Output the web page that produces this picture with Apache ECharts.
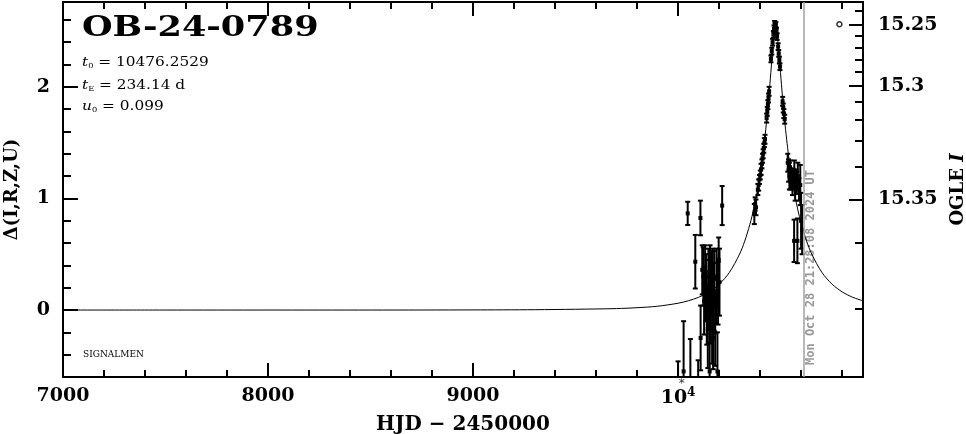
<!DOCTYPE html>
<html><head><meta charset="utf-8">
<script src="https://cdn.jsdelivr.net/npm/echarts@6/dist/echarts.min.js"></script>
<style>html,body{margin:0;padding:0;background:#fff}#c{width:966px;height:434px}</style>
</head><body><div id="c"></div><script>
// ---- axis ticks ----
const xMajorTicks = [7000, 8000, 9000, 10000];
const xMinorTicks = [7200,7400,7600,7800,8200,8400,8600,8800,9200,9400,9600,9800,10200,10400,10600,10800];
const yMajorTicks = [0, 1, 2];
const yMinorTicks = [-0.4,-0.2,0.2,0.4,0.6,0.8,1.2,1.4,1.6,1.8,2.2,2.4,2.6];
const magLabels = ['15.25', '15.3', '15.35'];
const magMajorPos = [2.552, 2.006, 0.991];
const magMinorPos = [2.68, 2.456, 2.352, 2.239, 2.134, 1.865, 1.708, 1.516, 1.283, 0.603, 0.015];

// ---- model curve ----
const modelT = [7000,7500,8000,8500,9000,9300,9500,9700,9800,9900,10000,10050,10100,10150,10200,10250,10300,10325,10350,10360,10375,10385,10400,10410,10420,10430,10440,10450,10455,10460,10465,10470,10476,10482,10487,10492,10497,10502,10512,10522,10532,10542,10552,10567,10577,10592,10602,10627,10652,10702,10752,10802,10852,10902];
const modelD = [0.000,0.000,0.000,0.000,0.001,0.003,0.007,0.013,0.021,0.034,0.061,0.083,0.114,0.161,0.230,0.336,0.501,0.617,0.765,0.836,0.958,1.052,1.216,1.344,1.490,1.659,1.853,2.072,2.187,2.300,2.405,2.490,2.535,2.490,2.405,2.300,2.187,2.072,1.853,1.659,1.490,1.344,1.216,1.052,0.958,0.836,0.765,0.617,0.501,0.336,0.230,0.161,0.114,0.083];

// ---- observations ----
const obsT = [10000,10027,10047,10060,10084,10098,10109,10110,10118,10123,10127,10132,10136,10140,10145,10148,10151,10154,10156,10159,10162,10166,10169,10171,10174,10177,10181,10185,10188,10192,10195,10198,10202,10215,
  10372,10376,10380,10389,10393,10397,10401,10405,10409,10412,10415,10418,10421,10424,10432,10435,10438,10441,10444,10453,10457,10461,10465,10468,10471,10474,10477,10480,10483,
  10488,10491,10494,10497,10510,10513,10516,10520,
  10535,10539,10543,10546,10549,10552,10555,10558,10561,10564,10567,10571,10575,10579,10584,10590,10596,
  10566,10582,10600,10605];
const obsD = [-0.80,-0.55,0.866,-0.62,0.433,-0.80,0.825,-0.25,0.36,0.30,0.08,0.38,0.20,0.02,-0.17,0.30,0.15,-0.55,0.40,0.05,0.25,-0.15,0.33,-0.25,0.12,0.28,-0.20,0.03,0.30,-0.55,0.15,0.45,0.25,0.936,
  0.86,0.95,0.92,1.08,1.12,1.17,1.21,1.26,1.31,1.36,1.40,1.45,1.50,1.53,1.72,1.78,1.84,1.90,1.96,2.25,2.32,2.40,2.47,2.52,2.56,2.54,2.55,2.50,2.45,
  2.36,2.30,2.24,2.18,1.87,1.81,1.76,1.71,
  1.32,1.25,1.20,1.28,1.15,1.22,1.18,1.12,1.20,1.15,1.24,1.10,1.18,1.14,1.20,1.08,1.12,
  0.62,0.62,0.80,0.72];
const obsErr = [0.34,0.45,0.104,0.36,0.24,0.35,0.155,0.29,0.22,0.26,0.30,0.20,0.30,0.33,0.35,0.25,0.30,0.40,0.18,0.35,0.28,0.33,0.22,0.28,0.30,0.25,0.30,0.15,0.25,0.35,0.28,0.20,0.30,0.175,
  0.09,0.06,0.07,0.05,0.05,0.04,0.04,0.05,0.04,0.04,0.04,0.04,0.04,0.04,0.04,0.04,0.04,0.04,0.04,0.03,0.03,0.03,0.03,0.03,0.03,0.03,0.03,0.03,0.03,
  0.03,0.03,0.03,0.03,0.04,0.04,0.04,0.04,
  0.08,0.10,0.12,0.06,0.07,0.05,0.08,0.09,0.06,0.07,0.10,0.12,0.08,0.10,0.12,0.10,0.18,
  0.19,0.20,0.25,0.22];

const refPointT = [10787];
const refPointD = [2.561];
const starT = [10018];
const starD = [-0.66];
const nowT = 10612.4;
const nowText = 'Mon Oct 28 21:28:08 2024 UT';
const eventName = 'OB-24-0789';
const t0Text = '10476.2529';
const tEText = '234.14 d';
const u0Text = '0.099';

const FONT = 'DejaVu Serif';
const X0 = 7000, X1 = 10902, Y0 = -0.6, Y1 = 2.76;

const chart = echarts.init(document.getElementById('c'), null, {renderer: 'canvas'});
const lineBlack = {color: '#000', width: 2};
function xAx(pos, ticks, len, labels) {
  return {
    type: 'value', min: X0, max: X1, position: pos,
    axisLine: {show: true, onZero: false, lineStyle: lineBlack},
    axisTick: {show: true, inside: true, length: len, customValues: ticks, lineStyle: lineBlack},
    axisLabel: labels ? {
      show: true, customValues: ticks, margin: 10, color: '#000',
      fontFamily: FONT, fontWeight: 'bold', fontSize: 19,
      formatter: v => v === 10000 ? '10{sup|4}' : String(v),
      rich: {sup: {fontFamily: FONT, fontWeight: 'bold', fontSize: 12, padding: [0, 0, 10, 0], color: '#000'}}
    } : {show: false},
    splitLine: {show: false}
  };
}
function yAx(pos, ticks, len, labelFn) {
  return {
    type: 'value', min: Y0, max: Y1, position: pos,
    axisLine: {show: true, onZero: false, lineStyle: lineBlack},
    axisTick: {show: true, inside: true, length: len, customValues: ticks, lineStyle: lineBlack},
    axisLabel: labelFn ? {
      show: true, customValues: ticks, margin: pos === 'left' ? 13 : 15, color: '#000',
      fontFamily: FONT, fontWeight: 'bold', fontSize: 19, formatter: labelFn
    } : {show: false},
    splitLine: {show: false}
  };
}
const xA0 = xAx('bottom', xMajorTicks, 14, true);
xA0.name = 'HJD \u2212 2450000';
xA0.nameLocation = 'middle';
xA0.nameGap = 38;
xA0.nameTextStyle = {fontFamily: FONT, fontWeight: 'bold', fontSize: 20, color: '#000'};
const yA0 = yAx('left', yMajorTicks, 15, v => String(Math.round(v)));
yA0.name = '\u0394(I,R,Z,U)';
yA0.nameLocation = 'middle';
yA0.nameGap = 42;
yA0.nameRotate = 90;
yA0.nameTextStyle = {fontFamily: FONT, fontWeight: 'bold', fontSize: 18, color: '#000'};
const yA2 = yAx('right', magMajorPos, 14, v => {
  let best = 0;
  magMajorPos.forEach((p, i) => { if (Math.abs(p - v) < Math.abs(magMajorPos[best] - v)) best = i; });
  return magLabels[best];
});
yA2.name = '{a|OGLE }{b|I}';
yA2.nameLocation = 'middle';
yA2.nameGap = 86;
yA2.nameRotate = 90;
yA2.nameTextStyle = {color: '#000', rich: {
  a: {fontFamily: FONT, fontWeight: 'bold', fontSize: 18, color: '#000'},
  b: {fontFamily: FONT, fontWeight: 'bold', fontStyle: 'italic', fontSize: 18, color: '#000'}
}};

const subRich = {
  i: {fontFamily: FONT, fontStyle: 'italic', fontSize: 13, color: '#000'},
  s: {fontFamily: FONT, fontSize: 7, padding: [7, 0, 0, 0], color: '#000'}
};

const option = {
  backgroundColor: '#fff',
  animation: false,
  grid: {left: 63, right: 103, top: 2, bottom: 57, containLabel: false, outerBoundsMode: 'none'},
  xAxis: [xA0, xAx('bottom', xMinorTicks, 7, false), xAx('top', xMajorTicks, 14, false), xAx('top', xMinorTicks, 7, false)],
  yAxis: [yA0, yAx('left', yMinorTicks, 8, null), yA2, yAx('right', magMinorPos, 8, null)],
  series: [
    {
      type: 'line', xAxisIndex: 0, yAxisIndex: 0, showSymbol: false, symbol: 'none',
      data: modelT.map((t, i) => [t, modelD[i]]),
      lineStyle: {color: '#000', width: 1}, smooth: 0.3, clip: true,
      markLine: {
        silent: true, symbol: ['none', 'none'], animation: false,
        label: {show: false},
        lineStyle: {color: '#a0a0a0', width: 1.5, type: 'solid'},
        data: [{xAxis: nowT}]
      }
    },
    {
      type: 'custom', xAxisIndex: 0, yAxisIndex: 0, clip: true,
      data: obsT.map((t, i) => [t, obsD[i], obsErr[i]]),
      renderItem: function (params, api) {
        const t = api.value(0), d = api.value(1), e = api.value(2);
        const p = api.coord([t, d]);
        const hi = api.coord([t, d + e]);
        const lo = api.coord([t, d - e]);
        const st = {stroke: '#000', lineWidth: 2};
        return {type: 'group', children: [
          {type: 'line', shape: {x1: p[0], y1: hi[1], x2: p[0], y2: lo[1]}, style: st},
          {type: 'line', shape: {x1: p[0] - 2.5, y1: hi[1], x2: p[0] + 2.5, y2: hi[1]}, style: st},
          {type: 'line', shape: {x1: p[0] - 2.5, y1: lo[1], x2: p[0] + 2.5, y2: lo[1]}, style: st},
          {type: 'rect', shape: {x: p[0] - 2, y: p[1] - 2, width: 4, height: 4}, style: {fill: '#000'}}
        ]};
      }
    },
    {
      type: 'scatter', xAxisIndex: 0, yAxisIndex: 0,
      data: refPointT.map((t, i) => [t, refPointD[i]]),
      symbol: 'circle', symbolSize: 5,
      itemStyle: {color: '#fff', borderColor: '#000', borderWidth: 1.5}
    },
    {
      type: 'scatter', xAxisIndex: 0, yAxisIndex: 0, clip: false,
      data: starT.map((t, i) => [t, starD[i]]),
      symbol: 'circle', symbolSize: 8,
      itemStyle: {color: 'rgba(0,0,0,0)'},
      label: {show: true, position: 'inside', formatter: '*', color: '#000', fontFamily: 'DejaVu Sans', fontSize: 12}
    }
  ],
  graphic: [
    {type: 'text', x: 82, y: 29, scaleX: 1.3,
      style: {text: eventName, font: 'bold 27px "DejaVu Serif"', fill: '#000', verticalAlign: 'middle'}},
    {type: 'text', x: 82, y: 63, scaleX: 1.18, style: {
      text: '{i|t}{s|0} = ' + t0Text, fill: '#000', rich: subRich,
      font: '13px "DejaVu Serif"', verticalAlign: 'middle'
    }},
    {type: 'text', x: 82, y: 86, scaleX: 1.18, style: {
      text: '{i|t}{s|E} = ' + tEText, fill: '#000', rich: subRich,
      font: '13px "DejaVu Serif"', verticalAlign: 'middle'
    }},
    {type: 'text', x: 82, y: 107, scaleX: 1.18, style: {
      text: '{i|u}{s|0} = ' + u0Text, fill: '#000', rich: subRich,
      font: '13px "DejaVu Serif"', verticalAlign: 'middle'
    }},
    {type: 'text', x: 83, y: 355, style: {text: 'SIGNALMEN', font: '9px "DejaVu Serif"', fill: '#000', verticalAlign: 'middle'}},
    {type: 'text', x: 811, y: 365, rotation: Math.PI / 2,
      style: {text: nowText, font: 'bold 12px "DejaVu Sans Mono"', fill: '#999', align: 'left', verticalAlign: 'middle'}}
  ]
};
chart.setOption(option);
</script></body></html>
